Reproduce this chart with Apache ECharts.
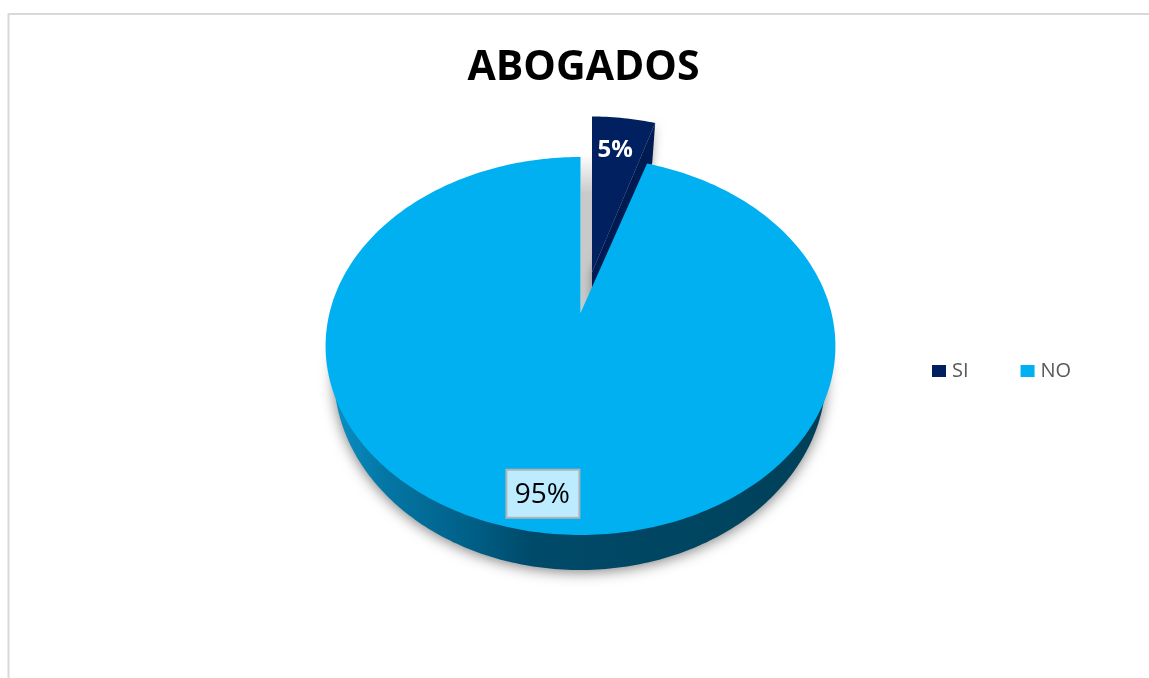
<!DOCTYPE html>
<html>
<head>
<meta charset="utf-8">
<style>
  html, body { margin: 0; padding: 0; background: #fff; }
  #chart { width: 1149px; height: 678px; }
</style>
<script src="https://cdn.jsdelivr.net/npm/echarts@6/dist/echarts.min.js"></script>
</head>
<body>
<div id="chart"></div>
<script>
// Respuestas de la encuesta a abogados
const chartTitle = 'ABOGADOS';
const categories = ['SI', 'NO'];
const values = [5, 95];
const sliceColors = ['#002060', '#00B0F0'];

const total = values.reduce((a, b) => a + b, 0);
const FONT = '"Open Sans", "Noto Sans", sans-serif';

// Tilted-disc projection: a point on the unit circle goes to the screen with
// a perspective term, so the disc centre sits above the centre of the ellipse.
const CX = 580.5, CY = 313, RX = 251, RY = 183.2, K = 0.1746;
function project(u, v) {
  const d = 1 + K * v;
  return [CX + RX * u / d, CY - RY * v / d];
}
// Angle in degrees, clockwise from the top of the disc, at radius r
function polar(deg, r) {
  const a = deg * Math.PI / 180;
  return project(r * Math.sin(a), r * Math.cos(a));
}
function wedge(fromDeg, toDeg) {
  const pts = [polar(0, 0)];
  for (let t = fromDeg; t < toDeg; t += 1) pts.push(polar(t, 1));
  pts.push(polar(toDeg, 1));
  return pts;
}

// Slice pulled out of the disc
const EXPLODE_X = 11.5, EXPLODE_Y = -40.5, EXPLODE_SX = 0.95;
const pulled = p => [CX + EXPLODE_X + (p[0] - CX) * EXPLODE_SX, p[1] + EXPLODE_Y];

function renderSi(params, api) {
  const sweep = api.value(0) / total * 360;
  const top = wedge(0, sweep).map(pulled);
  const apex = top[0], corner = top[top.length - 1];
  const label = pulled(polar(sweep / 2, 0.8));
  return {
    type: 'group',
    children: [
      // Shaded cut face of the disc left uncovered by the pulled slice
      {
        type: 'polygon',
        shape: { points: [polar(0, 0), polar(0, 1), [apex[0], polar(0, 1)[1] - 3], [apex[0], apex[1] + 20]] },
        style: {
          fill: new echarts.graphic.LinearGradient(0, 0, 0, 1, [
            { offset: 0, color: '#ffffff' },
            { offset: 0.25, color: '#c9c9c9' },
            { offset: 1, color: '#c9c9c9' }
          ])
        }
      },
      // Side wall of the slice
      {
        type: 'polygon',
        shape: { points: [apex, corner, [corner[0] - 3, corner[1] + 40], [apex[0], apex[1] + 36]] },
        style: { fill: '#001a52', shadowBlur: 10, shadowColor: 'rgba(0,0,0,0.35)' }
      },
      { type: 'polygon', shape: { points: top }, style: { fill: sliceColors[0] } },
      {
        type: 'text',
        style: {
          text: Math.round(api.value(0) / total * 100) + '%',
          x: label[0] - 3, y: label[1] + 4.5,
          fill: '#ffffff', align: 'center', verticalAlign: 'middle',
          font: 'bold 24px ' + FONT
        }
      }
    ]
  };
}

function renderNo(params, api) {
  const sweep = api.value(0) / total * 360;
  const start = 360 - sweep;
  // Lower rim of the disc, seen below the front of the top face
  const rim = [];
  for (let t = -98; t <= 98; t += 1) {
    const a = t * Math.PI / 180;
    rim.push([580 - 246 * Math.sin(a), 375 + 195 * Math.cos(a)]);
  }
  const label = polar(start + sweep / 2, 0.85);
  const boxW = 73, boxH = 48;
  return {
    type: 'group',
    children: [
      {
        type: 'polygon',
        shape: { points: rim },
        style: {
          fill: new echarts.graphic.LinearGradient(0, 0, 1, 0, [
            { offset: 0, color: '#0a8fc4' },
            { offset: 0.1, color: '#0477a5' },
            { offset: 0.28, color: '#005f87' },
            { offset: 0.4, color: '#004a69' },
            { offset: 0.8, color: '#00445f' },
            { offset: 1, color: '#003f58' }
          ]),
          shadowBlur: 14,
          shadowColor: 'rgba(0,0,0,0.5)',
          shadowOffsetY: 2
        }
      },
      { type: 'polygon', shape: { points: wedge(start, 360) }, style: { fill: sliceColors[1] } },
      {
        type: 'rect',
        shape: { x: label[0] - boxW / 2 + 1.5, y: label[1] - boxH / 2 + 0.5, width: boxW, height: boxH },
        style: { fill: '#BDEBFF', stroke: '#B0B4B8', lineWidth: 2 }
      },
      {
        type: 'text',
        style: {
          text: Math.round(api.value(0) / total * 100) + '%',
          x: label[0] + 1, y: label[1] + 2,
          fill: '#000000', align: 'center', verticalAlign: 'middle',
          font: '28px ' + FONT
        }
      }
    ]
  };
}

const chart = echarts.init(document.getElementById('chart'), null, { renderer: 'canvas' });
chart.setOption({
  animation: false,
  backgroundColor: '#ffffff',
  title: {
    text: chartTitle,
    left: 578.5,
    top: 43,
    textAlign: 'center',
    textStyle: { fontFamily: FONT, fontWeight: 'bold', fontSize: 41, color: '#000000' }
  },
  legend: {
    data: categories,
    orient: 'horizontal',
    left: 932,
    top: 361,
    padding: 0,
    itemWidth: 14,
    itemHeight: 12,
    itemGap: 52,
    icon: 'rect',
    textStyle: { fontFamily: FONT, fontSize: 20, color: '#595959', padding: [0, 0, 0, 1] }
  },
  graphic: [{
    type: 'rect',
    silent: true,
    z: -1,
    shape: { x: 8.5, y: 14, width: 1300, height: 800 },
    style: { fill: 'none', stroke: '#d9d9d9', lineWidth: 2 }
  }],
  series: [
    {
      type: 'custom',
      name: categories[0],
      coordinateSystem: 'none',
      itemStyle: { color: sliceColors[0] },
      data: [values[0]],
      renderItem: renderSi
    },
    {
      type: 'custom',
      name: categories[1],
      coordinateSystem: 'none',
      itemStyle: { color: sliceColors[1] },
      data: [values[1]],
      renderItem: renderNo
    }
  ]
});
</script>
</body>
</html>
